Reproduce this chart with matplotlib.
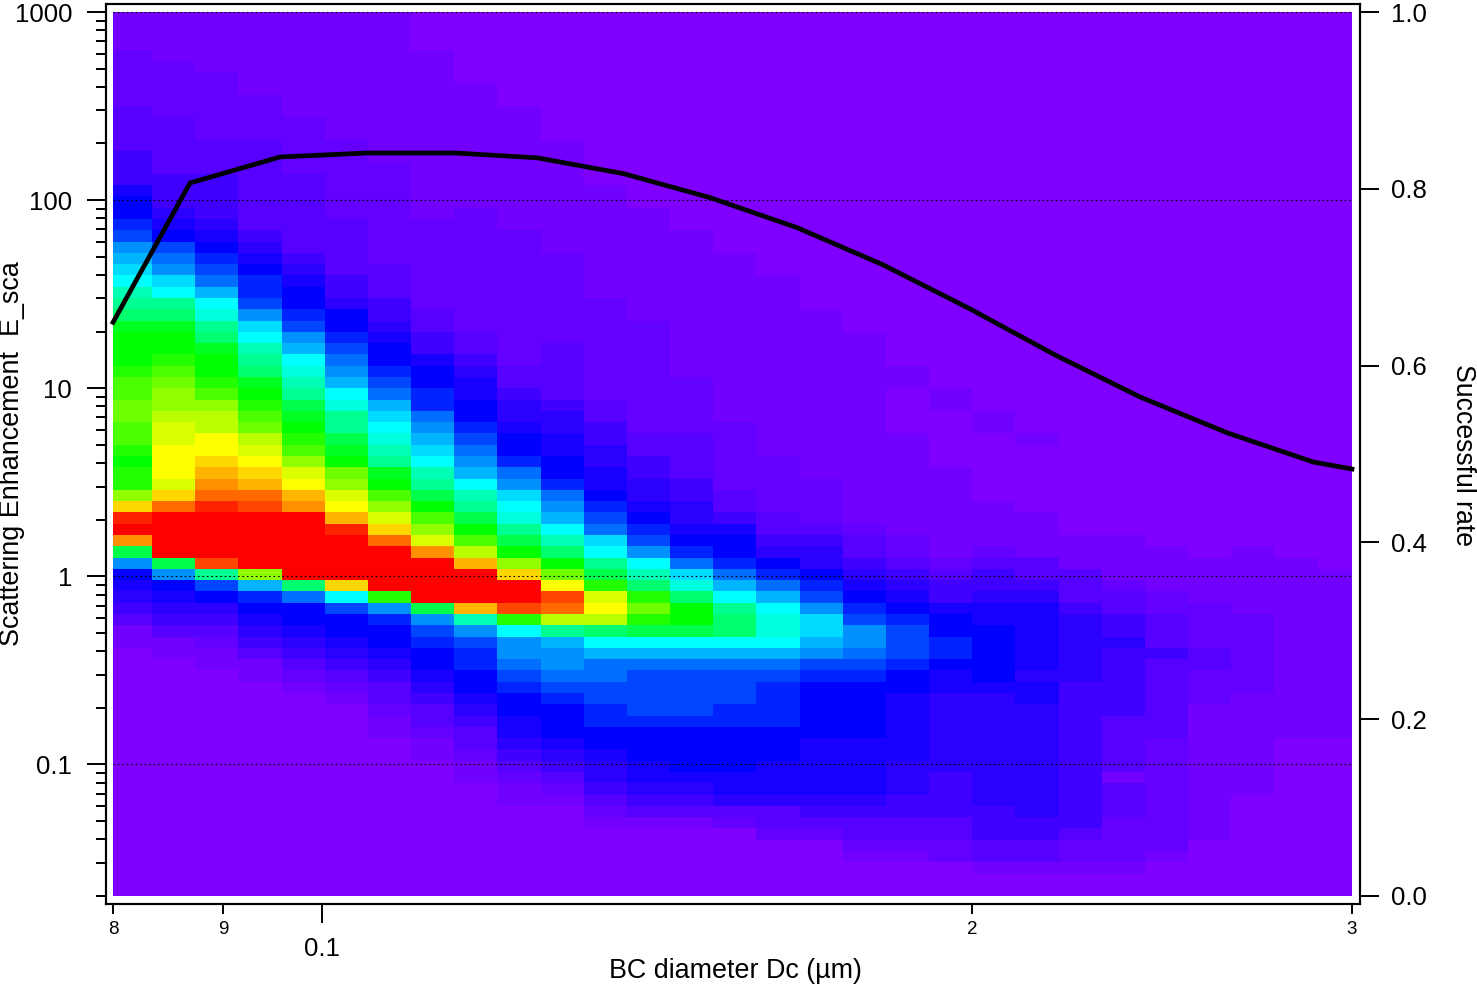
import numpy as np
import matplotlib
matplotlib.use("Agg")
import matplotlib.pyplot as plt
from matplotlib.colors import LinearSegmentedColormap
from matplotlib.ticker import NullFormatter

plt.rcParams['font.family'] = ['Liberation Sans', 'DejaVu Sans']

# image values, one string per size bin, top row first
# one character per cell, base 36: 0 violet, 7 blue, e cyan, l green, s yellow, z red
columns = [
    "1111222223 3334446778 9bcdeghikl llmnnoonnm lmmptyzvjb 7654311000 0000000000 0000000000",
    "1111122222 3333344456 79abdehikl lmnoppqrrs ssrtwzzzzj b765431100 0000000000 0000000000",
    "1111112222 2233344445 6789acefhi kllmnpqqss tuvwyzzzzx h975432110 0000000000 0000000000",
    "1111111122 2233333333 4567889bde ghiklmnoqr stuwxzzzzz pc87654311 0000000000 0000000000",
    "1111111111 2222233333 334567789b cefghjklmn prsuvzzzzz zia7765432 1000000000 0000000000",
    "1111111111 1122222223 3333445778 9abcefhhjk loprsuyzzz zte9776543 2100000000 0000000000",
    "1111111111 1111222222 2223334456 7789acdefg hklnprtwzz zzmb877654 3321100000 0000000000",
    "0000111111 1111111112 2222222334 467788abcd eghjlnprvz zzzjb98776 5433211000 0000000000",
    "0000000111 1111111122 2222222223 345667789a bceghjlnqu zzzugb9887 7654332110 0000000000",
    "0000000001 1111111111 2222222222 2233455677 8abdefhjlp tzzxmebba9 8776654321 1000000000",
    "0000000000 0011111111 1122222222 3333345566 778abcegil osxwqhcbba 9877765432 1000000000",
    "0000000000 0000001111 1111112222 2222233445 566789adeh jmrsqiecaa 9988776554 3210000000",
    "0000000000 0000000011 1111111122 2222222233 44556789be gimomjeca9 9998777665 4310000000",
    "0000000000 0000000000 1111111111 1112222233 334455678a dfilljeca9 9998777765 4310000000",
    "0000000000 0000000000 0011111111 1111111222 2223346778 acehiieca9 9988777766 5320000000",
    "0000000000 0000000000 0000111111 1111111111 2222233457 8aceffeca9 8888777666 5332000000",
    "0000000000 0000000000 0000000111 1111111111 1122223455 789bddcb98 7777766666 5432000000",
    "0000000000 0000000000 0000000001 1111111111 1111112334 56789bba98 7777766666 5433210000",
    "0000000000 0000000000 0000000000 0011000011 1111111223 4567899987 7666666555 4433210000",
    "0000000000 0000000000 0000000000 0000110000 0111111112 3446778876 6555555544 4433220000",
    "0000000000 0000000000 0000000000 0000001100 0000111123 4456677777 6555555555 5444331000",
    "0000000000 0000000000 0000000000 0000000010 0000011113 3456666665 6655555555 5544331000",
    "0000000000 0000000000 0000000000 0000000000 0000000111 3334555555 4444444444 4443221000",
    "0000000000 0000000000 0000000000 0000000000 0000000111 1233445444 4443333313 3322221000",
    "0000000000 0000000000 0000000000 0000000000 0000000011 1122333433 3333322222 2222210000",
    "0000000000 0000000000 0000000000 0000000000 0000000001 1112222332 2211111111 1111000000",
    "0000000000 0000000000 0000000000 0000000000 0000000011 1111222222 2111111111 0000000000",
    "0000000000 0000000000 0000000000 0000000000 0000000001 1111111111 1111100000 0000000000",
    "0000000000 0000000000 0000000000 0000000000 0000000000 1111111111 1111100000 0000000000",
]

# successful rate curve
rate_x = [0.08, 0.08685, 0.0956, 0.1049, 0.11526, 0.1258, 0.138, 0.15125,
          0.166, 0.1819, 0.19966, 0.21857, 0.2393, 0.2626, 0.2878, 0.3]
rate_y = [0.649, 0.8066, 0.836, 0.8405, 0.8405, 0.835, 0.817, 0.79,
          0.756, 0.714, 0.664, 0.612, 0.5645, 0.524, 0.491, 0.483]

x_major = [0.1]
x_major_labels = ['0.1']
x_minor = [0.08, 0.09, 0.2, 0.3]
x_minor_labels = ['8', '9', '2', '3']
y_major = [0.1, 1, 10, 100, 1000]
y_major_labels = ['0.1', '1', '10', '100', '1000']
y_minor = [m * 10.0 ** e for e in range(-2, 3) for m in range(2, 10)]
y_minor = [v for v in y_minor if v not in y_major]
rate_ticks = [0.0, 0.2, 0.4, 0.6, 0.8, 1.0]
grid_lines = [0.1, 1, 100, 1000]

Z = np.array([[int(c, 36) for c in col.replace(' ', '')] for col in columns]).T

# violet end is stretched, the first levels stay close to the background
rainbow = LinearSegmentedColormap.from_list('igor', [
    (0.0, '#8000ff'), (3 / 35, '#5400ff'), (0.2, '#0000ff'), (0.4, '#00ffff'),
    (0.6, '#00ff00'), (0.8, '#ffff00'), (1.0, '#ff0000')])

# bins are even in log space, image stops short of the axis frame
x_edges = np.clip(10.0 ** (-1.0988 + 0.02 * np.arange(Z.shape[1] + 1)), 0.08, 0.3)
y_edges = np.clip(10.0 ** (3.04 - 0.06 * np.arange(Z.shape[0] + 1)), 0.02, 1000)

fig = plt.figure(figsize=(14.77, 9.88), dpi=100)
ax = fig.add_axes([105.5 / 1477, 84 / 988, 1254.5 / 1477, 900 / 988])
ax.set_xscale('log')
ax.set_yscale('log')
ax.pcolormesh(x_edges, y_edges, Z, cmap=rainbow, vmin=0, vmax=35,
              shading='flat', antialiased=False, zorder=1)
ax.hlines(grid_lines, 0.08, 0.3, colors='black', linewidth=0.8,
          linestyles=(0, (1.5, 2.5)), zorder=2)
ax.set_xlim(0.07936, 0.30258)
ax.set_ylim(0.01813, 1103)

ax.set_xticks(x_major)
ax.set_xticklabels(x_major_labels)
ax.set_xticks(x_minor, minor=True)
ax.set_xticklabels(x_minor_labels, minor=True)
ax.set_yticks(y_major)
ax.set_yticklabels(y_major_labels)
ax.set_yticks(y_minor, minor=True)
ax.yaxis.set_minor_formatter(NullFormatter())

ax.tick_params(axis='x', which='major', length=14, width=1.4, labelsize=18.5, pad=10)
ax.tick_params(axis='x', which='minor', length=7.5, width=1.4, labelsize=13.5, pad=5)
ax.tick_params(axis='y', which='major', length=14, width=1.4, labelsize=18.5, pad=10)
ax.tick_params(axis='y', which='minor', length=7.5, width=1.4)

ax2 = ax.twinx()
ax2.plot(rate_x, rate_y, color='black', linewidth=3.4, solid_joinstyle='miter', zorder=5)
ax2.set_ylim(-0.00905, 1.00905)
ax2.set_yticks(rate_ticks)
ax2.set_yticklabels(['%.1f' % t for t in rate_ticks])
ax2.tick_params(axis='y', which='major', length=14, width=1.4, labelsize=18.5, pad=8.5)

for a in (ax, ax2):
    for s in a.spines.values():
        s.set_linewidth(1.5)

fig.text(12 / 1477, 1 - 454 / 988, 'Scattering Enhancement  E_sca', rotation=90,
         ha='center', va='center', fontsize=19.4)
fig.text(1463 / 1477, 1 - 455 / 988, 'Successful rate', rotation=-90,
         ha='center', va='center', fontsize=19.2)
fig.text(735 / 1477, 1 - 971 / 988, 'BC diameter Dc (µm)',
         ha='center', va='center', fontsize=19.4)

fig.savefig('out.png', dpi=100)
